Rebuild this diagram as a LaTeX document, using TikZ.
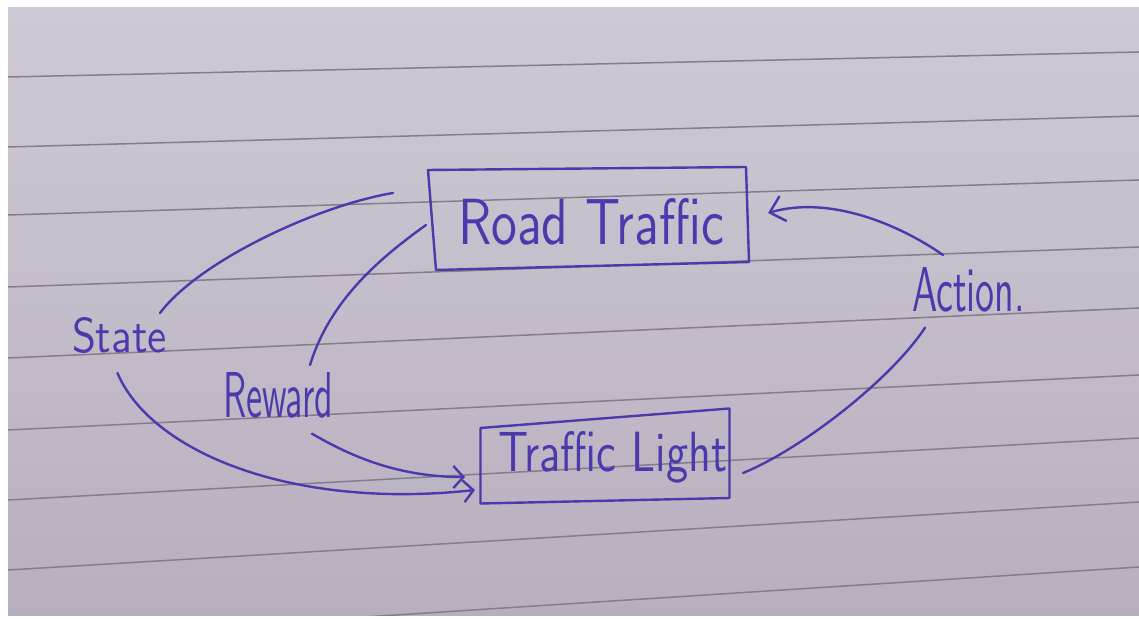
\documentclass[tikz,border=0pt]{standalone}
\usepackage{graphicx}
\usetikzlibrary{arrows.meta}
\definecolor{ink}{RGB}{76,58,172}
\definecolor{paperlight}{RGB}{207,201,213}
\definecolor{paperdark}{RGB}{184,175,190}
\definecolor{rulegrey}{RGB}{134,125,138}
\tikzset{
  pen/.style={draw=ink, line width=1.2pt, line cap=round, line join=round},
  penarrow/.style={pen, -{Straight Barb[length=5pt,width=11pt]}},
  bigarrow/.style={pen, -{Straight Barb[length=7pt,width=13pt]}},
  ruling/.style={draw=rulegrey, line width=0.75pt},
  frame/.style={inner sep=0pt, outer sep=0pt},
  hand/.style={inner sep=0pt, outer sep=0pt, anchor=base west, text=ink, font=\sffamily},
}
\begin{document}
\begin{tikzpicture}[x=0.5pt,y=-0.5pt]
\useasboundingbox (0,0) rectangle (1139,619);
\fill[white] (0,0) rectangle (1139,619);
% the sheet of ruled paper
\shade[top color=paperlight, bottom color=paperdark] (8,8) rectangle (1139,615);
\begin{scope}
  \clip (8,8) rectangle (1139,615);
  \foreach \yl/\yr in {77/52,147/116,215/180,287/247,358/308,430/375,500/438,570/502,640/567}
    \draw[ruling] (8,\yl) -- (1139,\yr);
\end{scope}

% boxes
\node[frame, minimum width=159pt, minimum height=49pt] (road) at (588,218) {};
\draw[pen] ([shift={(-1,1)}]road.north west) -- ([shift={(-1,-2)}]road.north east)
  -- ([shift={(2,-5)}]road.south east) -- ([shift={(7,3)}]road.south west) -- cycle;
\node[frame, minimum width=124.5pt, minimum height=47.5pt] (light) at (605,456) {};
\draw[pen] ([shift={(0,19.5)}]light.north west) -- (light.north east)
  -- ([shift={(0,-5.5)}]light.south east) -- (light.south west) -- cycle;

% handwritten labels
\node[hand] (roadtext) at (458,245) {\resizebox{133pt}{23pt}{Road Traffic}};
\node[hand] (lighttext) at (498,472) {\resizebox{114.5pt}{20pt}{Traffic Light}};
\node[hand] (state) at (72,353) {\resizebox{47.5pt}{17.5pt}{State}};
\node[hand] (reward) at (223,418) {\resizebox{55pt}{22.5pt}{Reward}};
\node[hand] (action) at (912,312) {\resizebox{56.5pt}{22pt}{Action.}};

% connectors
\draw[pen] ([shift={(-7,-5)}]state.north east)
  .. controls +(40,-53) and +(-73,12) .. ([shift={(-36,24)}]road.north west);
\draw[pen] ([shift={(-3,7)}]road.west)
  .. controls +(-46,33) and +(20,-65) .. ([shift={(32,-8)}]reward.north);
\draw[penarrow] ([shift={(34,15)}]reward.south)
  .. controls +(33,19) and +(-72,0) .. ([shift={(-15.5,21)}]light.west);
\draw[penarrow] ([shift={(-2,19)}]state.south)
  .. controls +(33,78) and +(-185,20) .. ([shift={(-5.5,-13.5)}]light.south west);
\draw[bigarrow] ([shift={(31,-13)}]action.north west)
  .. controls +(-43,-30) and +(62,-18) .. ([shift={(21,-5)}]road.east);
\draw[pen] ([shift={(13.5,17)}]light.east)
  .. controls +(57,-23) and +(-35,53) .. ([shift={(13,15)}]action.south west);
\end{tikzpicture}
\end{document}
